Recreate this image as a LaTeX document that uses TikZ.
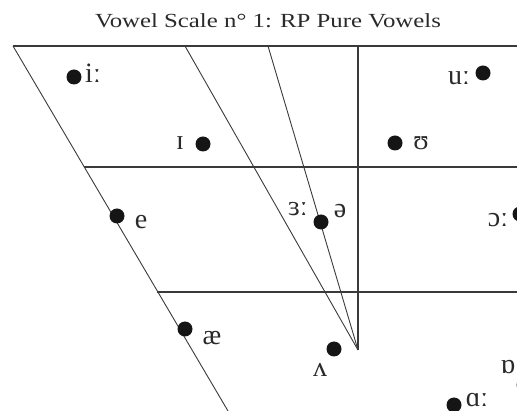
\documentclass[tikz,border=0pt]{standalone}
\usepackage{fontspec}
\setmainfont{Liberation Serif}
\newfontfamily\ipafont{Liberation Serif}
\definecolor{linec}{HTML}{3A3A3A}
\definecolor{dotc}{HTML}{151515}
\definecolor{txtc}{HTML}{2A2A2A}
\begin{document}
\begin{tikzpicture}[x=1pt,y=-1pt,
  dot/.style={circle,fill=dotc,inner sep=0pt,minimum size=15pt},
  lbl/.style={font=\ipafont\fontsize{28}{28}\selectfont,inner sep=0pt,text=txtc},
  gridline/.style={draw=linec,line width=1.4pt},
  slant/.style={draw=linec,line width=0.9pt}]
\useasboundingbox (0,0) rectangle (517,411);
\clip (0,0) rectangle (517,411);
% title
\node[anchor=base,text=txtc,inner sep=0pt] (title) at (268,28)
  {\fontsize{20}{20}\selectfont\scalebox{1.24}[1]{Vowel Scale n° 1: RP Pure Vowels}};
% frame coordinates
\coordinate (tl) at (13,46);
\coordinate (tr) at (517,46);
\coordinate (ml) at (84,167);
\coordinate (mr) at (517,167);
\coordinate (ll) at (157,292);
\coordinate (lr) at (517,292);
\coordinate (bl) at (228,411);
\coordinate (s1) at (185,46);
\coordinate (s2) at (268,46);
\coordinate (vt) at (358,46);
\coordinate (apex) at (358,350);
% lines
\draw[gridline] (tl) -- (tr);
\draw[gridline] (ml) -- (mr);
\draw[gridline] (ll) -- (lr);
\draw[slant] (tl) -- (bl);
\draw[slant] (s1) -- (apex);
\draw[slant] (s2) -- (apex);
\draw[gridline] (vt) -- (apex);
% dots
\node[dot] (di) at (74,77) {};
\node[dot] (du) at (483,73) {};
\node[dot] (dI) at (203,144) {};
\node[dot] (dU) at (395,143) {};
\node[dot] (de) at (117,216) {};
\node[dot] (dschwa) at (321,222) {};
\node[dot] (do) at (520,214) {};
\node[dot] (dae) at (185,329) {};
\node[dot] (dv) at (334,349) {};
\node[dot] (dq) at (524,385) {};
\node[dot] (da) at (454,405) {};
% labels
\node[lbl] (li) at (93,73) {iː};
\node[lbl] (lu) at (459,78) {uː};
\node[lbl] (lI) at (180,143) {ɪ};
\node[lbl] (lU) at (421,143) {ʊ};
\node[lbl] (le) at (141,222) {e};
\node[lbl] (l3) at (298,209) {ɜː};
\node[lbl] (lschwa) at (340,211) {ə};
\node[lbl] (lo) at (498,220) {ɔː};
\node[lbl] (lae) at (212,338) {æ};
\node[lbl] (lv) at (320,370) {ʌ};
\node[lbl] (lq) at (508,367) {ɒ};
\node[lbl] (la) at (477,400) {ɑː};
\end{tikzpicture}
\end{document}
